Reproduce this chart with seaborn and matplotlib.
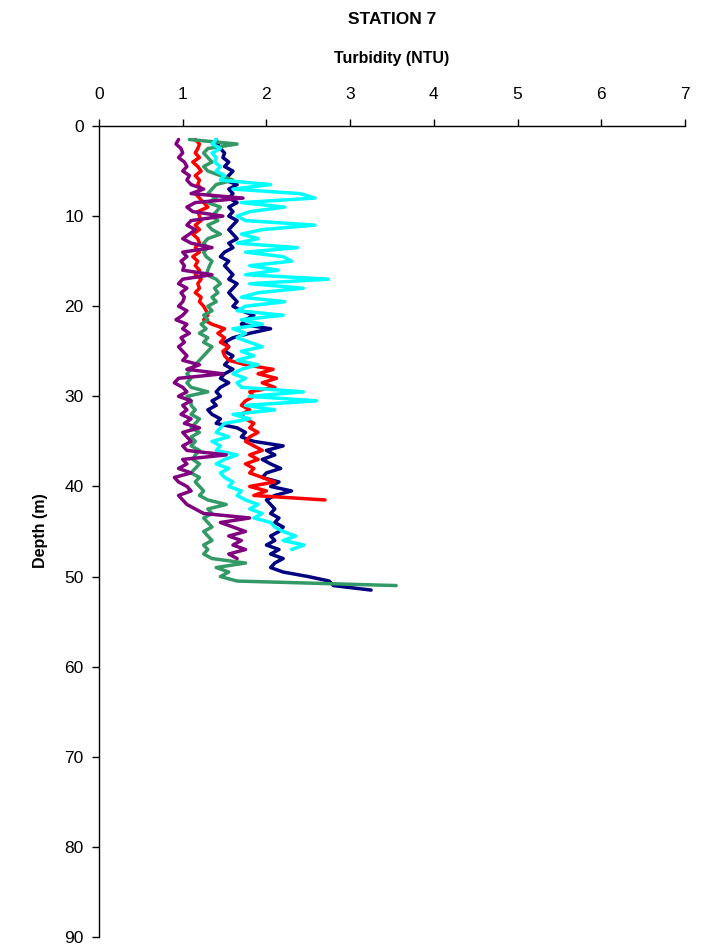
import numpy as np
import pandas as pd
import matplotlib
matplotlib.use("Agg")
import matplotlib.pyplot as plt
import seaborn as sns

# depth grid (m), 0.5 m sampling starting at 1.5 m
depth = [round(1.5 + 0.5 * i, 1) for i in range(101)]

navy = [1.4, 1.42, 1.45, 1.5, 1.48, 1.55, 1.5, 1.6, 1.55, 1.5,
        1.65, 1.55, 1.6, 1.55, 1.65, 1.55, 1.6, 1.55, 1.65, 1.6,
        1.55, 1.6, 1.65, 1.55, 1.6, 1.5, 1.45, 1.55, 1.5, 1.55,
        1.6, 1.55, 1.65, 1.6, 1.55, 1.6, 1.65, 1.6, 1.7, 1.85,
        1.75, 1.7, 2.05, 1.8, 1.6, 1.5, 1.55, 1.5, 1.6, 1.55,
        1.5, 1.6, 1.5, 1.45, 1.55, 1.45, 1.4, 1.45, 1.35, 1.4,
        1.3, 1.35, 1.45, 1.4, 1.65, 1.75, 1.7, 1.85, 2.2, 2.0,
        2.1, 1.95, 2.05, 2.17, 2.0, 1.95, 2.15, 2.05, 2.3, 2.1,
        2.0, 2.05, 2.1, 2.05, 2.15, 2.1, 2.2, 2.15, 2.05, 2.1,
        2.0, 2.15, 2.05, 2.2, 2.1, 2.05, 2.2, 2.5, 2.75, 2.8,
        3.25]

red = [1.15, 1.2, 1.18, 1.15, 1.2, 1.12, 1.18, 1.22, 1.15, 1.2,
       1.18, 1.22, 1.15, 1.2, 1.25, 1.3, 1.18, 1.2, 1.22, 1.15,
       1.2, 1.12, 1.18, 1.2, 1.15, 1.2, 1.12, 1.18, 1.15, 1.2,
       1.15, 1.22, 1.18, 1.2, 1.15, 1.22, 1.2, 1.25, 1.28, 1.3,
       1.25, 1.35, 1.5, 1.42, 1.5, 1.45, 1.55, 1.48, 1.5, 1.55,
       1.75, 2.08, 1.9, 2.12, 1.95, 2.1, 1.8, 1.85, 1.75, 1.7,
       1.8, 1.7, 1.75, 1.85, 1.8, 1.9, 1.8, 1.75, 1.85, 1.95,
       1.8, 1.9, 1.75, 1.85, 1.8, 1.95, 2.1, 1.8, 2.0, 1.85,
       2.7]

green = [1.08, 1.65, 1.3, 1.25, 1.3, 1.35, 1.25, 1.3, 1.45, 1.6,
         1.4, 1.35, 1.3, 1.4, 1.3, 1.45, 1.4, 1.35, 1.42, 1.3,
         1.35, 1.45, 1.3, 1.25, 1.3, 1.25, 1.28, 1.35, 1.32, 1.3,
         1.28, 1.4, 1.45, 1.38, 1.42, 1.35, 1.4, 1.3, 1.35, 1.25,
         1.3, 1.22, 1.28, 1.2, 1.3, 1.25, 1.35, 1.3, 1.25, 1.2,
         1.15, 1.1, 1.05, 1.1, 1.05, 1.1, 1.3, 1.05, 1.1, 1.1,
         1.15, 1.1, 1.2, 1.15, 1.1, 1.2, 1.1, 1.15, 1.1, 1.2,
         1.15, 1.12, 1.2, 1.15, 1.1, 1.2, 1.15, 1.2, 1.25, 1.2,
         1.3, 1.52, 1.3, 1.35, 1.25, 1.3, 1.35, 1.25, 1.3, 1.35,
         1.25, 1.3, 1.25, 1.35, 1.75, 1.4, 1.55, 1.45, 1.65, 3.55]

cyan = [1.4, 1.35, 1.45, 1.35, 1.4, 1.38, 1.45, 1.4, 1.5, 1.45,
        2.05, 1.6, 2.4, 2.58, 1.7, 2.22, 1.8, 1.65, 1.75, 2.58,
        1.95, 1.7, 1.9, 1.65, 2.37, 1.75, 2.2, 2.3, 1.8, 2.14,
        1.75, 2.74, 1.8, 2.44, 1.9, 1.7, 2.22, 1.75, 1.65, 2.2,
        1.7, 1.95, 1.6, 1.75, 1.65, 1.8, 1.95, 1.7, 1.85, 1.65,
        1.9, 1.7, 1.6, 1.75, 1.65, 1.7, 2.44, 1.8, 2.6, 1.75,
        2.1, 1.6, 1.8, 1.5, 1.45, 1.4, 1.55, 1.35, 1.45, 1.4,
        1.65, 1.5, 1.4, 1.55, 1.45, 1.5, 1.6, 1.55, 1.7, 1.65,
        1.75, 1.9, 1.8, 1.95, 1.85, 2.05, 2.1, 2.2, 2.35, 2.2,
        2.45, 2.3]

purple = [0.95, 0.92, 0.98, 1.0, 0.95, 1.02, 1.05, 1.0, 1.08, 1.05,
          1.1, 1.25, 1.1, 1.72, 1.15, 1.05, 1.12, 1.48, 1.1, 1.05,
          1.15, 1.08, 1.0, 1.1, 1.35, 1.0, 1.05, 0.98, 1.02, 1.0,
          1.35, 1.0, 0.95, 1.05, 0.98, 1.02, 1.0, 0.95, 1.05, 1.0,
          0.92, 1.05, 1.0, 1.08, 0.98, 1.02, 0.95, 1.0, 1.05, 1.0,
          1.2, 1.05, 1.48, 0.95, 0.9, 1.0, 1.05, 0.95, 1.1, 1.0,
          1.05, 0.98, 1.1, 1.02, 1.2, 1.0, 1.05, 1.1, 1.0, 1.05,
          1.52, 1.0, 1.05, 0.95, 1.1, 0.9, 0.95, 1.05, 1.1, 0.95,
          1.0, 1.05, 1.15, 1.25, 1.8, 1.45, 1.6, 1.75, 1.55, 1.7,
          1.6, 1.75, 1.55, 1.65]

series = {"S1": navy, "S2": red, "S3": green, "S4": cyan, "S5": purple}
colors = {"S1": "#000080", "S2": "#FF0000", "S3": "#339966",
          "S4": "#00FFFF", "S5": "#800080"}

frames = []
for name, vals in series.items():
    frames.append(pd.DataFrame({"depth": depth[:len(vals)],
                                "turb": vals, "series": name}))
df = pd.concat(frames, ignore_index=True)

sns.set_style("white")
plt.rcParams["font.family"] = ["Liberation Sans", "DejaVu Sans"]
plt.rcParams["text.color"] = "black"
plt.rcParams["xtick.color"] = "black"
plt.rcParams["ytick.color"] = "black"

fig = plt.figure(figsize=(7.19, 9.47), dpi=100)
ax = fig.add_axes([99 / 719, 1 - 937 / 947, (685 - 99) / 719, (937 - 126) / 947])

sns.lineplot(data=df, x="turb", y="depth", hue="series",
             hue_order=list(series.keys()), palette=colors,
             sort=False, estimator=None, orient="y",
             linewidth=2.5, legend=False, ax=ax)

ax.set_xlim(0, 7)
ax.set_ylim(90, 0)
ax.set_xticks(range(0, 8))
ax.set_yticks(range(0, 91, 10))
ax.xaxis.tick_top()
ax.set_xlabel("")
ax.set_ylabel("")
for s in ["right", "bottom"]:
    ax.spines[s].set_visible(False)
for s in ["left", "top"]:
    ax.spines[s].set_color("black")
    ax.spines[s].set_linewidth(1.0)
ax.tick_params(axis="x", which="both", top=True, bottom=False, direction="out",
               length=5, width=1, color="black", labelcolor="black",
               labelsize=12.5, pad=12, labeltop=True, labelbottom=False)
ax.tick_params(axis="y", which="both", left=True, direction="out",
               length=5, width=1, color="black", labelcolor="black",
               labelsize=12.5, pad=6)
ax.grid(False)

fig.text(392 / 719, 1 - 20 / 947, "STATION 7", ha="center", va="center",
         fontsize=12.5, fontweight="bold", color="black")
fig.text(392 / 719, 1 - 58 / 947, "Turbidity (NTU)", ha="center", va="center",
         fontsize=11.5, fontweight="bold", color="black")
fig.text(40 / 719, 1 - 531 / 947, "Depth (m)", ha="center", va="center",
         rotation=90, fontsize=11.5, fontweight="bold", color="black")

fig.savefig("out.png", dpi=100)
